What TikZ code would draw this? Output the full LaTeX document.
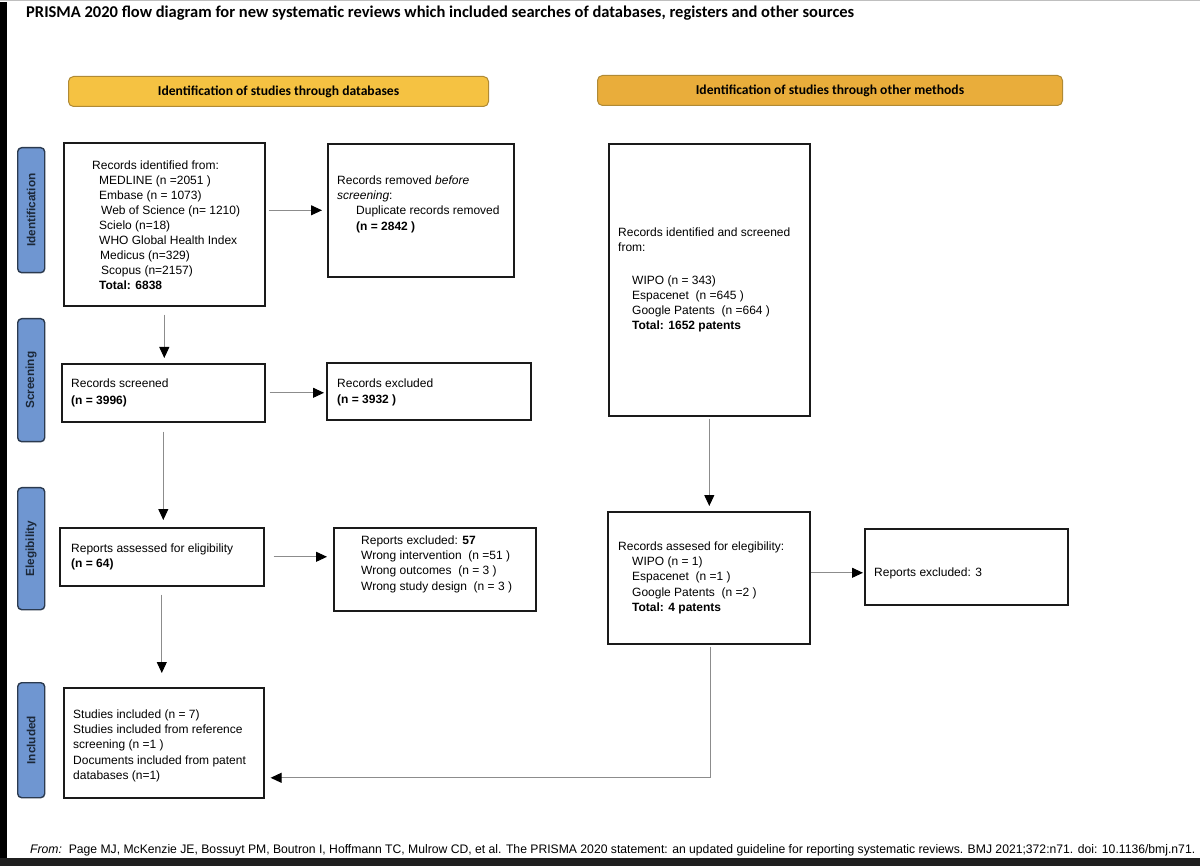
\documentclass[tikz,border=0pt]{standalone}
\usepackage{fontspec}
\setmainfont{Liberation Sans}
\newfontfamily\calib{Carlito}
\usetikzlibrary{arrows.meta,calc}
\definecolor{hdrA}{HTML}{F5C242}
\definecolor{hdrB}{HTML}{E9AD3B}
\definecolor{hdrline}{HTML}{B08A35}
\definecolor{sidefill}{HTML}{6F96D1}
\definecolor{sideline}{HTML}{2B3A4F}
\definecolor{sidetext}{HTML}{1C2838}
\definecolor{conn}{HTML}{8C8C8C}
\definecolor{boxline}{HTML}{1A1A1A}
\begin{document}
\begin{tikzpicture}[x=1pt,y=-1pt,
  flowbox/.style={draw=boxline, line width=1.6pt, anchor=north west, inner sep=0pt},
  txt/.style={anchor=west, align=left, inner sep=0pt, font=\fontsize{12}{15.1}\selectfont},
  hdr/.style={draw=hdrline, line width=1pt, rounded corners=5pt, anchor=north west, inner sep=0pt, font=\calib\bfseries\fontsize{13.6}{15}\selectfont},
  side/.style={draw=sideline, fill=sidefill, line width=1.4pt, rounded corners=4pt, anchor=north west, inner sep=0pt, minimum width=27pt},
  sidetxt/.style={rotate=90, text=sidetext, font=\bfseries\fontsize{11.8}{13}\selectfont, inner sep=0pt},
  conn/.style={draw=conn, line width=1pt, -{Triangle[length=11pt,width=10pt,black]}}
]
\useasboundingbox (0,0) rectangle (1200,866);
\fill[white] (0,0) rectangle (1200,866);
\fill[black!25] (0,0) rectangle (1200,1.5);
\fill[black] (0,2) rectangle (7,858);
\fill[black!88] (0,858) rectangle (1200,866);

% title
\node[anchor=base west, inner sep=0pt, font=\calib\bfseries\fontsize{16.5}{19}\selectfont] (title) at (26,18) {PRISMA 2020 flow diagram for new systematic reviews which included searches of databases, registers and other sources};

% headers
\node[hdr, fill=hdrA, minimum width=420pt, minimum height=30pt] (hL) at (68,76) {Identification of studies through databases};
\node[hdr, fill=hdrB, minimum width=465pt, minimum height=30pt] (hR) at (597,75) {Identification of studies through other methods};

% side labels
\node[side, minimum height=125pt] (sI) at (17,147) {};
\node[sidetxt] at (sI.center) {Identification};
\node[side, minimum height=123pt] (sS) at (17,318) {};
\node[sidetxt] at (sS.center) {Screening};
\node[side, minimum height=122pt] (sE) at (17,487) {};
\node[sidetxt] at (sE.center) {Elegibility};
\node[side, minimum height=115pt] (sN) at (17,682) {};
\node[sidetxt] at (sN.center) {Included};

% left column
\node[flowbox, minimum width=201pt, minimum height=163pt] (A) at (63,142) {};
\node[txt] (At) at ([xshift=29pt,yshift=-1pt]A.west) {Records identified from:\\
\hspace*{7pt}MEDLINE (n =2051 )\\
\hspace*{7pt}Embase (n = 1073)\\
\hspace*{9pt}Web of Science (n= 1210)\\
\hspace*{7pt}Scielo (n=18)\\
\hspace*{7pt}WHO Global Health Index\\
\hspace*{8pt}Medicus (n=329)\\
\hspace*{9pt}Scopus (n=2157)\\
\hspace*{7pt}\textbf{Total: 6838}};

\node[flowbox, minimum width=186pt, minimum height=133pt] (B) at (327,143) {};
\node[txt] (Bt) at ([xshift=10pt,yshift=6pt]B.west) {Records removed \textit{before}\\
\textit{screening}:\\
\hspace*{19pt}Duplicate records removed\\
\hspace*{19pt}\textbf{(n = 2842 )}};

\node[flowbox, minimum width=203pt, minimum height=58pt] (C) at (61,363) {};
\node[txt, font=\fontsize{12}{16.5}\selectfont] (Ct) at ([xshift=10pt]C.west) {Records screened\\ \textbf{(n = 3996)}};

\node[flowbox, minimum width=204pt, minimum height=57pt] (D) at (326,362) {};
\node[txt, font=\fontsize{12}{16.5}\selectfont] (Dt) at ([xshift=11pt,yshift=-1pt]D.west) {Records excluded\\ \textbf{(n = 3932 )}};

\node[flowbox, minimum width=204pt, minimum height=58pt] (E) at (59,527) {};
\node[txt] (Et) at ([xshift=12pt]E.west) {Reports assessed for eligibility\\ \textbf{(n = 64)}};

\node[flowbox, minimum width=202pt, minimum height=83pt] (F) at (333,527) {};
\node[txt] (Ft) at ([xshift=28pt,yshift=5pt]F.west) {Reports excluded: \textbf{57}\\
Wrong intervention\ \ (n =51 )\\
Wrong outcomes\ \ (n = 3 )\\
Wrong study design\ \ (n = 3 )};

\node[flowbox, minimum width=200pt, minimum height=110pt] (G) at (63,687) {};
\node[txt] (Gt) at ([xshift=10pt,yshift=-3pt]G.west) {Studies included (n = 7)\\
Studies included from reference\\
screening (n =1 )\\
Documents included from patent\\
databases (n=1)};

% right column
\node[flowbox, minimum width=201pt, minimum height=272pt] (H1) at (608,143) {};
\node[txt] (H1t) at ([xshift=10pt]H1.west) {Records identified and screened\\
from:\\[18pt]
\hspace*{14pt}WIPO (n = 343)\\
\hspace*{14pt}Espacenet\ \ (n =645 )\\
\hspace*{14pt}Google Patents\ \ (n =664 )\\
\hspace*{14pt}\textbf{Total: 1652 patents}};

\node[flowbox, minimum width=202pt, minimum height=132pt] (H2) at (607,511) {};
\node[txt] (H2t) at ([xshift=11pt]H2.west) {Records assesed for elegibility:\\
\hspace*{14pt}WIPO (n = 1)\\
\hspace*{14pt}Espacenet\ \ (n =1 )\\
\hspace*{14pt}Google Patents\ \ (n =2 )\\
\hspace*{14pt}\textbf{Total: 4 patents}};

\node[flowbox, minimum width=203pt, minimum height=76pt] (I) at (864,528) {};
\node[txt] (It) at ([xshift=10pt,yshift=-7pt]I.west) {Reports excluded: 3};

% connectors
\draw[conn, shorten <=3pt, shorten >=5pt] (A.east |- B.west) -- (B.west);
\draw[conn, shorten <=8pt, shorten >=5pt] (A.south) -- (A.south |- C.north);
\draw[conn, shorten <=4pt, shorten >=2pt] (C.east) -- (C.east -| D.west);
\draw[conn, shorten <=9pt, shorten >=7pt] (C.south) -- (C.south |- E.north);
\draw[conn, shorten <=9pt, shorten >=6pt] (E.east) -- (E.east -| F.west);
\draw[conn, shorten <=8pt, shorten >=14pt] (E.south) -- (E.south |- G.north);
\draw[conn, shorten <=2pt, shorten >=5pt] (H1.south) -- (H1.south |- H2.north);
\draw[conn, shorten >=1pt] ([yshift=5pt]H2.east) -- ([yshift=5pt]H2.east -| I.west);
\coordinate (Gin) at ([yshift=-35pt]G.east);
\draw[conn, shorten <=2pt, shorten >=6pt] ([xshift=2pt]H2.south) |- (Gin);

% footer
\node[anchor=base west, inner sep=0pt] (foot) at (30,853) {\resizebox{1165pt}{9pt}{\fontsize{10}{12}\selectfont\textit{From:}\ \ Page MJ, McKenzie JE, Bossuyt PM, Boutron I, Hoffmann TC, Mulrow CD, et al. The PRISMA 2020 statement: an updated guideline for reporting systematic reviews. BMJ 2021;372:n71. doi: 10.1136/bmj.n71.}};
\end{tikzpicture}
\end{document}
